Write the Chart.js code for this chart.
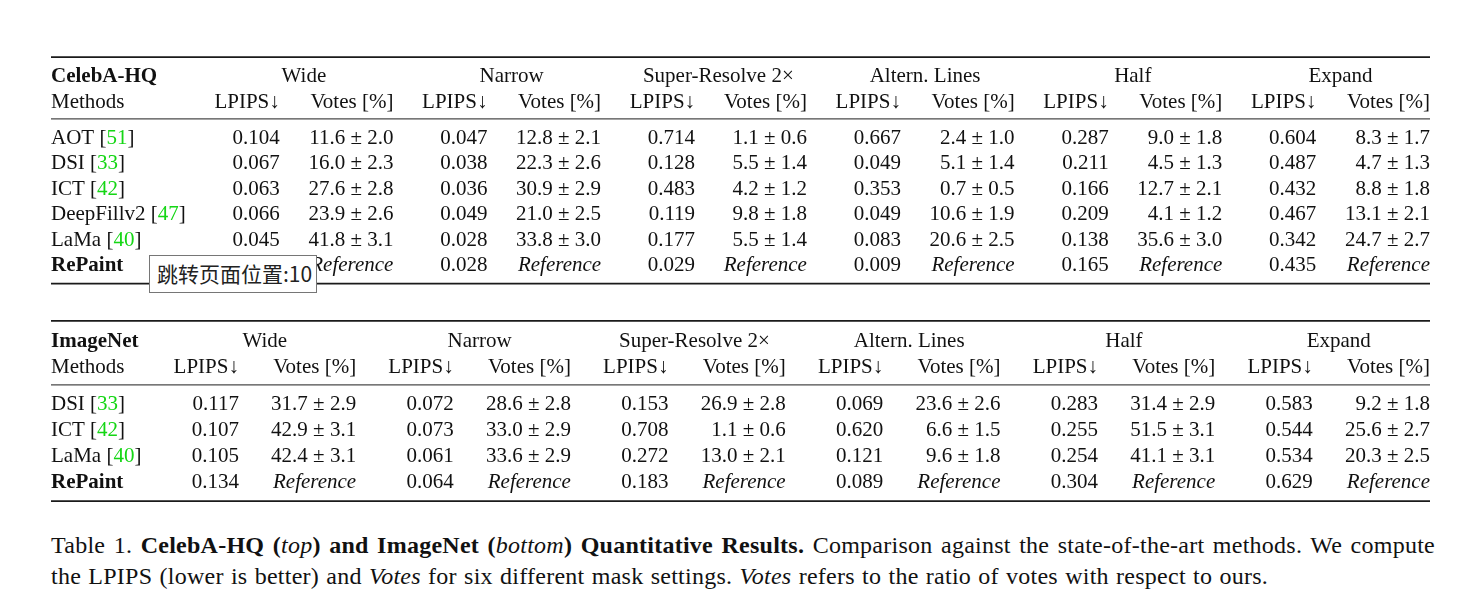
<!DOCTYPE html>
<html>
<head>
<meta charset="utf-8">
<script src="https://cdn.jsdelivr.net/npm/chart.js@4.4.1/dist/chart.umd.min.js"></script>
<style>
    html, body { margin: 0; padding: 0; background: #fff; }
    body { width: 1466px; height: 612px; position: relative; overflow: hidden; color: #111;
           font-family: "Liberation Serif", "Times New Roman", serif; }
    .wrap { position: absolute; left: 51px; width: 1379px; }
    #wrapTop { top: 55px; height: 230px; }
    #wrapBottom { top: 319px; height: 185px; }
    .caption { position: absolute; left: 51px; width: 1384px; font-size: 24px; line-height: 31px; white-space: nowrap;
               letter-spacing: 0.25px; word-spacing: 1px; }
    #cap1 { top: 530px; text-align: justify; text-align-last: justify; white-space: normal; }
    #cap2 { top: 561px; }
    .caption i.n { font-weight: normal; }
    .tip { position: absolute; left: 149px; top: 255px; width: 168px; height: 38px; box-sizing: border-box;
           border: 1px solid #767676; background: #fff; z-index: 5; color: #222;
           font-family: "Noto Sans CJK SC", "Noto Sans", sans-serif; font-size: 21px; line-height: 35px; padding-left: 7px;
           white-space: nowrap; overflow: hidden; }
</style>
</head>
<body>
<div class="wrap" id="wrapTop"><canvas id="tablaCeleba"></canvas></div>
<div class="wrap" id="wrapBottom"><canvas id="tablaImagenet"></canvas></div>
<div class="tip">跳转页面位置:10</div>
<div class="caption" id="cap1">Table 1. <b>CelebA-HQ (<i class="n">top</i>) and ImageNet (<i class="n">bottom</i>) Quantitative Results.</b> Comparison against the state-of-the-art methods. We compute</div>
<div class="caption" id="cap2">the LPIPS (lower is better) and <i>Votes</i> for six different mask settings. <i>Votes</i> refers to the ratio of votes with respect to ours.</div>

<script>
// ---- dados ----
const masks = ['Wide', 'Narrow', 'Super-Resolve 2×', 'Altern. Lines', 'Half', 'Expand'];

const celebaMethods = ['AOT', 'DSI', 'ICT', 'DeepFillv2', 'LaMa', 'RePaint'];
const celebaCites = ['51', '33', '42', '47', '40', ''];
const celebaLpips = [
    [0.104, 0.047, 0.714, 0.667, 0.287, 0.604],
    [0.067, 0.038, 0.128, 0.049, 0.211, 0.487],
    [0.063, 0.036, 0.483, 0.353, 0.166, 0.432],
    [0.066, 0.049, 0.119, 0.049, 0.209, 0.467],
    [0.045, 0.028, 0.177, 0.083, 0.138, 0.342],
    [0.059, 0.028, 0.029, 0.009, 0.165, 0.435]
];
const celebaVotes = [
    [11.6, 12.8, 1.1, 2.4, 9.0, 8.3],
    [16.0, 22.3, 5.5, 5.1, 4.5, 4.7],
    [27.6, 30.9, 4.2, 0.7, 12.7, 8.8],
    [23.9, 21.0, 9.8, 10.6, 4.1, 13.1],
    [41.8, 33.8, 5.5, 20.6, 35.6, 24.7],
    null
];
const celebaVotesErr = [
    [2.0, 2.1, 0.6, 1.0, 1.8, 1.7],
    [2.3, 2.6, 1.4, 1.4, 1.3, 1.3],
    [2.8, 2.9, 1.2, 0.5, 2.1, 1.8],
    [2.6, 2.5, 1.8, 1.9, 1.2, 2.1],
    [3.1, 3.0, 1.4, 2.5, 3.0, 2.7],
    null
];

const imagenetMethods = ['DSI', 'ICT', 'LaMa', 'RePaint'];
const imagenetCites = ['33', '42', '40', ''];
const imagenetLpips = [
    [0.117, 0.072, 0.153, 0.069, 0.283, 0.583],
    [0.107, 0.073, 0.708, 0.620, 0.255, 0.544],
    [0.105, 0.061, 0.272, 0.121, 0.254, 0.534],
    [0.134, 0.064, 0.183, 0.089, 0.304, 0.629]
];
const imagenetVotes = [
    [31.7, 28.6, 26.9, 23.6, 31.4, 9.2],
    [42.9, 33.0, 1.1, 6.6, 51.5, 25.6],
    [42.4, 33.6, 13.0, 9.6, 41.1, 20.3],
    null
];
const imagenetVotesErr = [
    [2.9, 2.8, 2.8, 2.6, 2.9, 1.8],
    [3.1, 2.9, 0.6, 1.5, 3.1, 2.7],
    [3.1, 2.9, 2.1, 1.8, 3.1, 2.5],
    null
];

// ---- estilo ----
const FONTE = '"Liberation Serif", "Times New Roman", serif';
const TAM = 21;
const VERDE = '#14d614';
const medidor = document.createElement('canvas').getContext('2d');

function fonte(p) {
    return (p.italic ? 'italic ' : '') + (p.bold ? 'bold ' : '') + TAM + 'px ' + FONTE;
}
function larguraCelula(c) {
    return c.parts.reduce((s, p) => { medidor.font = fonte(p); return s + medidor.measureText(p.t).width; }, 0);
}

function montarCelulas(nome, metodos, cites, lpips, votos, erros) {
    const cel = [];
    cel.push({ row: 0, col: 0, align: 'left', parts: [{ t: nome, bold: true }] });
    masks.forEach((m, k) => cel.push({ row: 0, col: 1 + 2 * k, span: 2, align: 'center', parts: [{ t: m }] }));
    cel.push({ row: 1, col: 0, align: 'left', parts: [{ t: 'Methods' }] });
    masks.forEach((m, k) => {
        cel.push({ row: 1, col: 1 + 2 * k, align: 'right', parts: [{ t: 'LPIPS↓' }] });
        cel.push({ row: 1, col: 2 + 2 * k, align: 'right', parts: [{ t: 'Votes [%]' }] });
    });
    metodos.forEach((m, i) => {
        const r = 2 + i;
        const nomeParts = cites[i]
            ? [{ t: m + ' [' }, { t: cites[i], color: VERDE }, { t: ']' }]
            : [{ t: m, bold: true }];
        cel.push({ row: r, col: 0, align: 'left', parts: nomeParts });
        masks.forEach((mk, k) => {
            cel.push({ row: r, col: 1 + 2 * k, align: 'right', parts: [{ t: lpips[i][k].toFixed(3) }] });
            const txt = votos[i]
                ? [{ t: votos[i][k].toFixed(1) + ' ± ' + erros[i][k].toFixed(1) }]
                : [{ t: 'Reference', italic: true }];
            cel.push({ row: r, col: 2 + 2 * k, align: 'right', parts: txt });
        });
    });
    return cel;
}

// colunas como numa tabela LaTeX: largura natural + espaco distribuido
function colunas(celulas, nCols, total) {
    const larg = new Array(nCols).fill(0);
    celulas.filter(c => !c.span).forEach(c => { larg[c.col] = Math.max(larg[c.col], larguraCelula(c)); });
    const sep = (total - larg.reduce((a, b) => a + b, 0)) / (nCols - 1);
    const esq = [];
    let x = 0;
    larg.forEach(w => { esq.push(x); x += w + sep; });
    return { esq: esq, dir: esq.map((e, i) => e + larg[i]) };
}

const tabelaPlugin = {
    id: 'tabela',
    afterDatasetsDraw(chart, args, opts) {
        const { ctx, scales: { x, y } } = chart;
        ctx.save();
        const x0 = x.getPixelForValue(x.min), x1 = x.getPixelForValue(x.max);
        [[opts.regraTopo, 1.8, '#1a1a1a'], [opts.regraMeio, 1.1, '#4a4a4a'], [opts.regraBase, 1.8, '#1a1a1a']].forEach(([v, lw, cor]) => {
            const py = y.getPixelForValue(v);
            ctx.beginPath();
            ctx.lineWidth = lw;
            ctx.strokeStyle = cor;
            ctx.moveTo(x0, py);
            ctx.lineTo(x1, py);
            ctx.stroke();
        });
        ctx.textBaseline = 'alphabetic';
        const ds = chart.data.datasets[0].data;
        chart.getDatasetMeta(0).data.forEach((el, i) => {
            const c = ds[i].cell;
            const w = larguraCelula(c);
            let px = c.align === 'left' ? el.x : c.align === 'right' ? el.x - w : el.x - w / 2;
            const py = el.y + TAM * 0.33;
            c.parts.forEach(p => {
                ctx.font = fonte(p);
                ctx.fillStyle = p.color || '#111';
                ctx.textAlign = 'left';
                ctx.fillText(p.t, px, py);
                px += ctx.measureText(p.t).width;
            });
        });
        ctx.restore();
    }
};

function gerarTabela(id, celulas, inicioDados, regras, yMin, yMax) {
    const ctx = document.getElementById(id);
    const largura = ctx.parentNode.clientWidth;
    const cols = colunas(celulas, 1 + 2 * masks.length, largura);
    const linhaY = r => r < 2 ? r : inicioDados + (r - 2);
    const pontos = celulas.map(c => ({
        x: c.align === 'left' ? cols.esq[c.col] : c.align === 'right' ? cols.dir[c.col] : (cols.esq[c.col] + cols.dir[c.col + 1]) / 2,
        y: linhaY(c.row),
        cell: c
    }));
    return new Chart(ctx, {
        type: 'scatter',
        data: { datasets: [{ data: pontos, pointRadius: 0, pointHoverRadius: 0, showLine: false, clip: false }] },
        options: {
            responsive: true,
            maintainAspectRatio: false,
            animation: false,
            events: [],
            layout: { autoPadding: false, padding: 0 },
            scales: {
                x: { type: 'linear', display: false, min: 0, max: largura },
                y: { type: 'linear', display: false, reverse: true, min: yMin, max: yMax }
            },
            plugins: {
                legend: { display: false },
                tooltip: { enabled: false },
                tabela: { regraTopo: regras[0], regraMeio: regras[1], regraBase: regras[2] }
            }
        },
        plugins: [tabelaPlugin]
    });
}

window.graficoCeleba = gerarTabela('tablaCeleba',
    montarCelulas('CelebA-HQ', celebaMethods, celebaCites, celebaLpips, celebaVotes, celebaVotesErr),
    2.4, [-0.72, 1.7, 8.15], -0.8, 8.2);
window.graficoImagenet = gerarTabela('tablaImagenet',
    montarCelulas('ImageNet', imagenetMethods, imagenetCites, imagenetLpips, imagenetVotes, imagenetVotesErr),
    2.43, [-0.73, 1.73, 6.19], -0.8, 6.3);
</script>
</body>
</html>
